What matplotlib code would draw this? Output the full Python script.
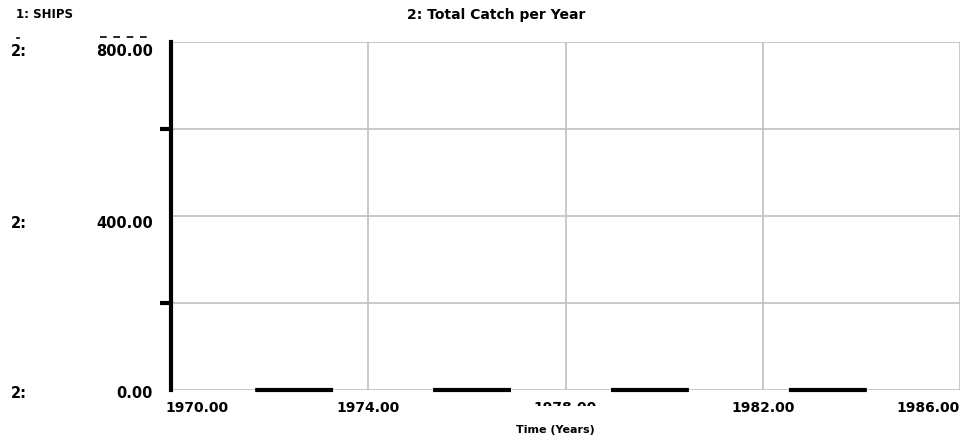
import matplotlib
matplotlib.use("Agg")
import matplotlib.pyplot as plt
from matplotlib.lines import Line2D
from matplotlib.transforms import Bbox, TransformedBbox, blended_transform_factory

# data (Stella-style time graph)
years = [1970, 1972, 1974, 1976, 1978, 1980, 1982, 1984, 1986]
total_catch = [0, 0, 0, 0, 0, 0, 0, 0, 0]
x_ticks = [1970, 1974, 1978, 1982, 1986]
x_labels = ["1970.00", "1974.00", "1978.00", "1982.00", "1986.00"]
y_grid = [0, 200, 400, 600, 800]
y_label_vals = [0, 400, 800]
y_label_text = ["0.00", "400.00", "800.00"]
y_minor = [200, 600]

FONT = "DejaVu Sans"
PX = 72 / 100  # points per pixel

fig = plt.figure(figsize=(9.66, 4.41), dpi=100)
ax = fig.add_axes([171 / 966, 1 - 390 / 441, (960 - 171) / 966, (390 - 42) / 441])
ax.set_xlim(1970, 1986)
ax.set_ylim(0, 800)

# grid
for xv in x_ticks:
    ax.axvline(xv, color="#c0c0c0", lw=1.2, zorder=1)
for yv in y_grid:
    ax.axhline(yv, color="#c0c0c0", lw=1.2, zorder=1)

# series 2: Total Catch per Year (thick dashed)
ax.plot(years, total_catch, color="black", lw=3.0, clip_on=False, zorder=3,
        linestyle=(22.5, (18.7, 24)))

for side in ["top", "right", "bottom"]:
    ax.spines[side].set_visible(False)
ax.spines["left"].set_linewidth(3.0)
ax.spines["left"].set_color("black")
ax.spines["left"].set_zorder(4)

ax.set_xticks([])
ax.set_yticks(y_minor)
ax.set_yticklabels([])
ax.tick_params(axis="y", length=8, width=3.0, color="black")

# x tick labels: first left-aligned, last right-aligned, 1978 mostly hidden
xt = ax.get_xaxis_transform()
for i, (xv, lab) in enumerate(zip(x_ticks, x_labels)):
    ha = "center"
    dx = 0
    if i == 0:
        ha, dx = "left", -6
    elif i == len(x_ticks) - 1:
        ha, dx = "right", 0
    t = ax.annotate(lab, (xv, 0), xycoords=xt, xytext=(dx * PX, -18 * PX),
                    textcoords="offset points", ha=ha, va="center",
                    fontsize=10, family=FONT, weight="bold", annotation_clip=False)
    if xv == 1978:
        t.set_clip_box(TransformedBbox(Bbox([[0, 1 - 406 / 441], [1, 1]]),
                                       fig.transFigure))
        t.set_clip_on(True)

# y labels, each with the series marker "2:"
yt = ax.get_yaxis_transform()
yoff = {0: -3, 400: -7, 800: -10}
for yv, lab in zip(y_label_vals, y_label_text):
    ax.annotate(lab, (-18 / 789, yv), xycoords=yt, xytext=(0, yoff[yv] * PX),
                textcoords="offset points", ha="right", va="center",
                fontsize=10.5, family=FONT, weight="bold", annotation_clip=False)
    ax.annotate("2:", (11 / 966, yv), xycoords=blended_transform_factory(fig.transFigure, ax.transData),
                xytext=(0, yoff[yv] * PX), textcoords="offset points",
                ha="left", va="center", fontsize=10.5, family=FONT, weight="bold",
                annotation_clip=False)

# header
fig.text(16 / 966, 1 - 15 / 441, "1: SHIPS", ha="left", va="center",
         fontsize=8.5, family=FONT, weight="bold")
fig.text(496 / 966, 1 - 15 / 441, "2: Total Catch per Year", ha="center",
         va="center", fontsize=10, family=FONT, weight="bold")
fig.add_artist(Line2D([17 / 966, 19 / 966], [1 - 38 / 441] * 2, color="black", lw=1.2))
fig.add_artist(Line2D([100 / 966, 148 / 966], [1 - 37 / 441] * 2, color="black",
                      lw=1.2, linestyle=(0, (4, 4))))

fig.text(555 / 966, 1 - 430 / 441, "Time (Years)", ha="center", va="center",
         fontsize=8, family=FONT, weight="bold")

fig.savefig("out.png", dpi=100)
